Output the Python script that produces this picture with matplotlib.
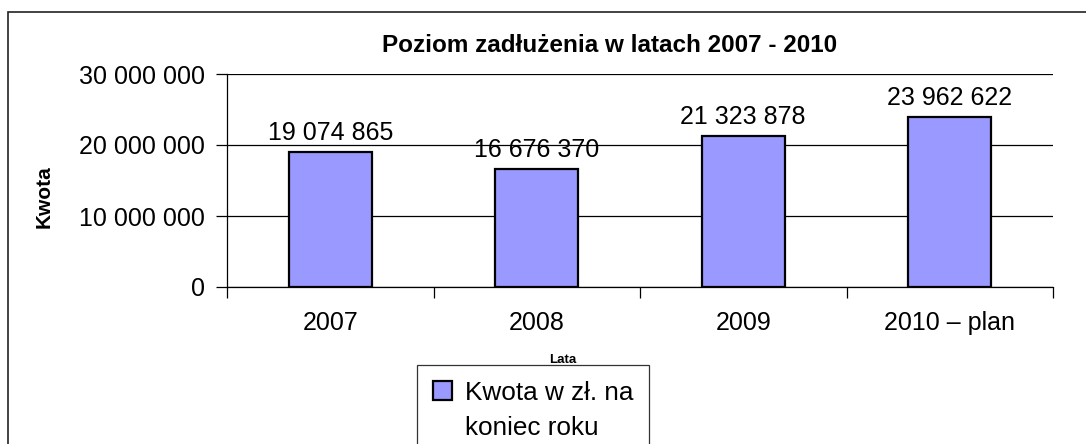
import numpy as np
import matplotlib.pyplot as plt
from matplotlib.patches import Rectangle

years = ['2007', '2008', '2009', '2010 \u2013 plan']
amounts = [19074865, 16676370, 21323878, 23962622]
yticks = [0, 10000000, 20000000, 30000000]
legend_lines = ['Kwota w z\u0142. na', 'koniec roku']

def fmt(v):
    return '{:,}'.format(v).replace(',', ' ')

plt.rcParams['font.family'] = ['Liberation Sans', 'DejaVu Sans']

fig = plt.figure(figsize=(10.86, 4.44), dpi=100)
W, H = 1086, 444
ax = fig.add_axes([227 / W, 1 - 287 / H, (1053 - 227) / W, (287 - 74) / H])

# outer frame of the chart area
fig.patches.append(Rectangle((8 / W, -0.1), 1.2, 1.1 - 12 / H, transform=fig.transFigure,
                             fill=False, edgecolor='#222222', linewidth=1.2))

x = np.arange(len(years))
bars = ax.bar(x, amounts, width=0.4, color='#9999FF', edgecolor='black', linewidth=1.6, zorder=3)
for xi, v in zip(x, amounts):
    ax.text(xi, v + 900000, fmt(v), ha='center', va='bottom', fontsize=18)

ax.set_xlim(-0.5, len(years) - 0.5)
ax.set_ylim(0, 30000000)
ax.set_yticks(yticks)
ax.set_yticklabels([fmt(t) for t in yticks], fontsize=18)
ax.yaxis.grid(True, color='black', linewidth=0.9, zorder=0)
ax.set_axisbelow(True)

ax.set_xticks(x)
ax.set_xticklabels(years, fontsize=18)
ax.set_xticks(np.arange(-0.5, len(years), 1.0), minor=True)
ax.tick_params(axis='x', which='major', length=0, pad=17)
ax.tick_params(axis='x', which='minor', length=8, width=0.9, direction='out')
ax.tick_params(axis='y', length=8, width=0.9, pad=8)

for s in ['top', 'right']:
    ax.spines[s].set_visible(False)
ax.spines['left'].set_linewidth(0.9)
ax.spines['bottom'].set_linewidth(0.9)

fig.text(610 / W, 1 - 45 / H, 'Poziom zad\u0142u\u017cenia w latach 2007 - 2010',
         ha='center', va='center', fontsize=17.5, fontweight='bold')
fig.text(44 / W, 1 - 197 / H, 'Kwota', rotation=90, ha='center', va='center',
         fontsize=15, fontweight='bold')
fig.text(563 / W, 1 - 360 / H, 'Lata', ha='center', va='center', fontsize=9.5, fontweight='bold')

# legend: the patch sits beside the first line, second line wraps below
blank = Rectangle((0, 0), 1, 1, alpha=0)
leg = ax.legend([bars[0], blank], legend_lines, loc='upper left',
                bbox_to_anchor=(417 / W, 1 - 365 / H), bbox_transform=fig.transFigure,
                fontsize=18.8, frameon=True, fancybox=False, handlelength=0.75, handleheight=0.75,
                handletextpad=0.5, borderpad=0.6, borderaxespad=0, labelspacing=0.45)
leg.get_frame().set_edgecolor('black')
leg.get_frame().set_linewidth(0.9)

fig.savefig('out.png', dpi=100)
